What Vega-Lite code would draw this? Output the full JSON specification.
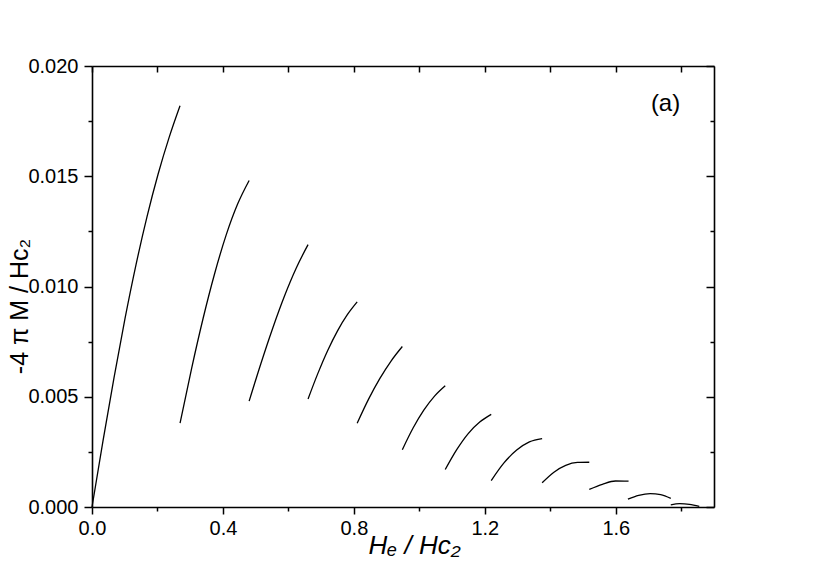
{
  "$schema": "https://vega.github.io/schema/vega-lite/v6.json",
  "width": 622,
  "height": 441,
  "autosize": "none",
  "padding": {"left": 92, "top": 66, "right": 116, "bottom": 68},
  "background": "white",
  "config": {
    "view": {"stroke": null},
    "axis": {
      "grid": false,
      "labelFont": "Liberation Sans",
      "labelFontSize": 20,
      "labelColor": "black",
      "labelFlush": false,
      "tickColor": "black",
      "tickWidth": 1.5,
      "domainColor": "black",
      "domainWidth": 1.6,
      "titleFont": "Liberation Sans",
      "titleColor": "black",
      "titleFontWeight": "normal"
    }
  },
  "datasets": {
    "curves": [
      {"seg": 1, "h": 0.0, "m": 0.0},
      {"seg": 1, "h": 0.0336, "m": 0.003},
      {"seg": 1, "h": 0.0673, "m": 0.00587},
      {"seg": 1, "h": 0.1009, "m": 0.00855},
      {"seg": 1, "h": 0.1345, "m": 0.01099},
      {"seg": 1, "h": 0.1681, "m": 0.01317},
      {"seg": 1, "h": 0.2018, "m": 0.01509},
      {"seg": 1, "h": 0.2354, "m": 0.01675},
      {"seg": 1, "h": 0.269, "m": 0.0182},
      {"seg": 2, "h": 0.269, "m": 0.0038},
      {"seg": 2, "h": 0.3042, "m": 0.00628},
      {"seg": 2, "h": 0.3393, "m": 0.00855},
      {"seg": 2, "h": 0.3745, "m": 0.01058},
      {"seg": 2, "h": 0.4097, "m": 0.01233},
      {"seg": 2, "h": 0.4448, "m": 0.01374},
      {"seg": 2, "h": 0.48, "m": 0.01481},
      {"seg": 3, "h": 0.48, "m": 0.0048},
      {"seg": 3, "h": 0.516, "m": 0.00651},
      {"seg": 3, "h": 0.552, "m": 0.00811},
      {"seg": 3, "h": 0.588, "m": 0.00957},
      {"seg": 3, "h": 0.624, "m": 0.01084},
      {"seg": 3, "h": 0.66, "m": 0.0119},
      {"seg": 4, "h": 0.66, "m": 0.0049},
      {"seg": 4, "h": 0.69, "m": 0.00606},
      {"seg": 4, "h": 0.72, "m": 0.0071},
      {"seg": 4, "h": 0.75, "m": 0.00799},
      {"seg": 4, "h": 0.78, "m": 0.00872},
      {"seg": 4, "h": 0.81, "m": 0.0093},
      {"seg": 5, "h": 0.81, "m": 0.0038},
      {"seg": 5, "h": 0.8445, "m": 0.00488},
      {"seg": 5, "h": 0.879, "m": 0.00582},
      {"seg": 5, "h": 0.9135, "m": 0.00662},
      {"seg": 5, "h": 0.948, "m": 0.00728},
      {"seg": 6, "h": 0.948, "m": 0.0026},
      {"seg": 6, "h": 0.9808, "m": 0.00358},
      {"seg": 6, "h": 1.0135, "m": 0.00439},
      {"seg": 6, "h": 1.0463, "m": 0.00503},
      {"seg": 6, "h": 1.079, "m": 0.0055},
      {"seg": 7, "h": 1.079, "m": 0.0017},
      {"seg": 7, "h": 1.1141, "m": 0.0026},
      {"seg": 7, "h": 1.1492, "m": 0.00333},
      {"seg": 7, "h": 1.1844, "m": 0.00385},
      {"seg": 7, "h": 1.2195, "m": 0.0042},
      {"seg": 8, "h": 1.2195, "m": 0.0012},
      {"seg": 8, "h": 1.2584, "m": 0.002},
      {"seg": 8, "h": 1.2973, "m": 0.00258},
      {"seg": 8, "h": 1.3361, "m": 0.00295},
      {"seg": 8, "h": 1.375, "m": 0.0031},
      {"seg": 9, "h": 1.375, "m": 0.0011},
      {"seg": 9, "h": 1.411, "m": 0.00158},
      {"seg": 9, "h": 1.447, "m": 0.00189},
      {"seg": 9, "h": 1.483, "m": 0.00202},
      {"seg": 9, "h": 1.519, "m": 0.00203},
      {"seg": 10, "h": 1.519, "m": 0.0008},
      {"seg": 10, "h": 1.559, "m": 0.00103},
      {"seg": 10, "h": 1.599, "m": 0.00118},
      {"seg": 10, "h": 1.639, "m": 0.00117},
      {"seg": 11, "h": 1.637, "m": 0.00036},
      {"seg": 11, "h": 1.67, "m": 0.00053},
      {"seg": 11, "h": 1.705, "m": 0.00061},
      {"seg": 11, "h": 1.737, "m": 0.00056},
      {"seg": 11, "h": 1.768, "m": 0.00039},
      {"seg": 12, "h": 1.768, "m": 0.0001},
      {"seg": 12, "h": 1.795, "m": 0.00015},
      {"seg": 12, "h": 1.825, "m": 0.00012},
      {"seg": 12, "h": 1.855, "m": 0.00003}
    ],
    "label": [{"h": 1.752, "m": 0.01828, "t": "(a)"}]
  },
  "resolve": {"axis": {"x": "independent", "y": "independent"}},
  "layer": [
    {
      "data": {"name": "curves"},
      "mark": {"type": "line", "color": "black", "strokeWidth": 1.3, "interpolate": "monotone"},
      "encoding": {
        "x": {
          "field": "h", "type": "quantitative",
          "scale": {"domain": [0, 1.9], "nice": false, "zero": false},
          "axis": {
            "orient": "bottom", "values": [0, 0.4, 0.8, 1.2, 1.6], "format": ".1f",
            "tickSize": 7, "labelPadding": 4,
            "title": "Hₑ / Hc₂", "titleFontSize": 26, "titleFontStyle": "italic",
            "titleX": 322, "titleY": 46, "titleBaseline": "alphabetic", "titleAlign": "center"
          }
        },
        "y": {
          "field": "m", "type": "quantitative",
          "scale": {"domain": [0, 0.02], "nice": false, "zero": false},
          "axis": {
            "orient": "left", "values": [0, 0.005, 0.01, 0.015, 0.02], "format": ".3f",
            "tickSize": 8, "labelPadding": 6,
            "title": "-4 π M / Hc₂", "titleFontSize": 25,
            "titleAngle": 270, "titleX": -65, "titleY": 240, "titleBaseline": "alphabetic", "titleAlign": "center"
          }
        },
        "detail": {"field": "seg", "type": "nominal"}
      }
    },
    {
      "data": {"name": "label"},
      "mark": {"type": "text", "font": "Liberation Sans", "fontSize": 24, "color": "black", "align": "center", "baseline": "middle"},
      "encoding": {
        "x": {
          "field": "h", "type": "quantitative",
          "axis": {"orient": "bottom", "values": [0.2, 0.6, 1.0, 1.4, 1.8], "labels": false, "domain": false, "tickSize": 4, "title": null}
        },
        "y": {
          "field": "m", "type": "quantitative",
          "axis": {"orient": "left", "values": [0.0025, 0.0075, 0.0125, 0.0175], "labels": false, "domain": false, "tickSize": 4, "title": null}
        },
        "text": {"field": "t"}
      }
    },
    {
      "data": {"name": "label"},
      "mark": {"type": "point", "opacity": 0},
      "encoding": {
        "x": {
          "field": "h", "type": "quantitative",
          "axis": {"orient": "top", "values": [0, 0.2, 0.4, 0.6, 0.8, 1.0, 1.2, 1.4, 1.6, 1.8], "labels": false, "tickSize": -6, "title": null}
        },
        "y": {
          "field": "m", "type": "quantitative",
          "axis": {"orient": "right", "values": [0, 0.005, 0.01, 0.015, 0.02], "labels": false, "tickSize": -8, "title": null}
        }
      }
    },
    {
      "data": {"name": "label"},
      "mark": {"type": "point", "opacity": 0},
      "encoding": {
        "x": {"field": "h", "type": "quantitative", "axis": null},
        "y": {
          "field": "m", "type": "quantitative",
          "axis": {"orient": "right", "values": [0.0025, 0.0075, 0.0125, 0.0175], "labels": false, "domain": false, "tickSize": -4, "title": null}
        }
      }
    }
  ]
}
